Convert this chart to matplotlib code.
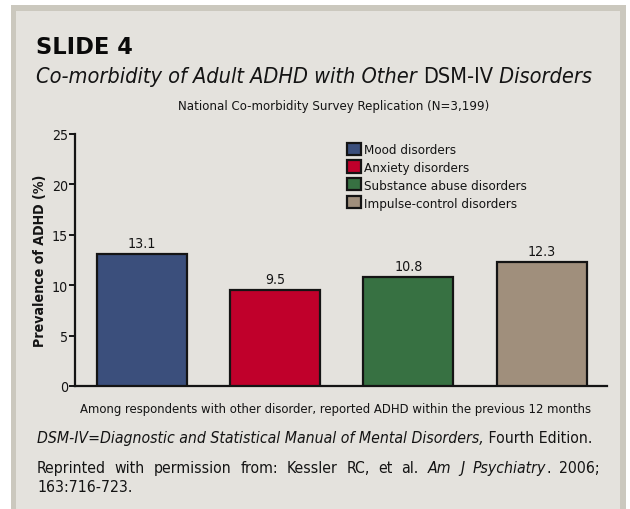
import matplotlib
matplotlib.use("Agg")
import matplotlib.pyplot as plt
from matplotlib.patches import Rectangle

categories = ["Mood disorders", "Anxiety disorders", "Substance abuse disorders", "Impulse-control disorders"]
values = [13.1, 9.5, 10.8, 12.3]
value_labels = ["13.1", "9.5", "10.8", "12.3"]
colors = ["#3b4f7c", "#c0002b", "#377142", "#a08f7c"]
yticks = [0, 5, 10, 15, 20, 25]

W, H = 630, 510
plt.rcParams['font.family'] = ["DejaVu Sans"]
plt.rcParams['font.stretch'] = "condensed"
INK = "#141414"

fig = plt.figure(figsize=(W / 100, H / 100), dpi=100, facecolor="white")
fig.canvas.draw()
R = fig.canvas.get_renderer()


def fx(x):
    return x / W


def fy(y):
    return 1 - y / H


def width_of(parts, size, **kw):
    tot = 0
    for txt, style in parts:
        t = fig.text(0, 0, txt, fontsize=size, style=style, **kw)
        tot += t.get_window_extent(R).width
        t.remove()
    return tot


def fit(parts, target, **kw):
    s = 10.0
    for _ in range(2):
        s = s * target / width_of(parts, s, **kw)
    return s


def run(xpx, ypx, parts, size, **kw):
    cur = xpx
    for txt, style in parts:
        t = fig.text(fx(cur), fy(ypx), txt, fontsize=size, style=style,
                     ha="left", va="baseline", color=INK, **kw)
        cur += t.get_window_extent(R).width
    return cur


def justify(xpx, x2, ypx, words, size):
    widths = [width_of(w, size) for w in words]
    gap = (x2 - xpx - sum(widths)) / (len(words) - 1)
    cur = xpx
    for w, wd in zip(words, widths):
        run(cur, ypx, w, size)
        cur += wd + gap


# border and panel
fig.patches.append(Rectangle((fx(11), 0), 615 / W, 504 / H, transform=fig.transFigure,
                             facecolor="#cbc8be", edgecolor="none", zorder=-10))
fig.patches.append(Rectangle((fx(16), 0), 604 / W, 498 / H, transform=fig.transFigure,
                             facecolor="#e4e2dd", edgecolor="none", zorder=-9))

# axes: x 75..607, y 135..387
AX0, AX1, AY0, AY1 = 75, 607, 135, 387
ax = fig.add_axes([fx(AX0), fy(AY1), (AX1 - AX0) / W, (AY1 - AY0) / H])
ax.set_facecolor("none")

num_size = 10.2
x = list(range(len(values)))
bars = ax.bar(x, values, width=0.675, color=colors, edgecolor=INK, linewidth=1.6,
              label=categories, zorder=3)
for xi, v, t in zip(x, values, value_labels):
    ax.annotate(t, (xi, v), xytext=(0, 5.2), textcoords="offset points",
                ha="center", va="baseline", fontsize=num_size, color=INK)
ax.set_xlim(-0.5, 3.49)
ax.set_ylim(0, 25)
ax.set_yticks(yticks)
ax.set_yticklabels([str(t) for t in yticks], fontsize=num_size, color=INK)
ax.set_xticks([])
for s in ["top", "right"]:
    ax.spines[s].set_visible(False)
for s in ["left", "bottom"]:
    ax.spines[s].set_linewidth(1.6)
    ax.spines[s].set_color(INK)
ax.tick_params(axis="y", direction="out", length=4, width=1.4, pad=1.0, color=INK)

ylab_size = fit([("Prevalence of ADHD (%)", "normal")], 172, fontweight="bold")
ax.set_ylabel("Prevalence of ADHD (%)", fontsize=ylab_size, fontweight="bold", color=INK)
ax.yaxis.label.set_va("center")
ax.yaxis.set_label_coords((40 - AX0) / (AX1 - AX0), (AY1 - 261) / (AY1 - AY0))

xl = "Among respondents with other disorder, reported ADHD within the previous 12 months"
xl_size = fit([(xl, "normal")], 516)
ax.set_xlabel(xl, fontsize=xl_size, color=INK)
ax.xaxis.label.set_va("baseline")
ax.xaxis.set_label_coords((335 - AX0) / (AX1 - AX0), -(413 - AY1) / (AY1 - AY0))

leg_size = fit([("Substance abuse disorders", "normal")], 164)
fpx = leg_size * 100 / 72
leg = ax.legend(handles=bars, labels=categories, loc="upper left",
                bbox_to_anchor=((347 - AX0) / (AX1 - AX0), (AY1 - 143.5) / (AY1 - AY0)),
                frameon=False, fontsize=leg_size,
                handlelength=14 / fpx, handleheight=14 / fpx, handletextpad=2.5 / fpx,
                labelspacing=(19.7 - 1.17 * fpx) / fpx, borderpad=0, borderaxespad=0)
for t in leg.get_texts():
    t.set_color(INK)

# Header texts
slide_size = fit([("SLIDE 4", "normal")], 97, fontweight="heavy", fontstretch="normal")
fig.text(fx(36), fy(54), "SLIDE 4", fontsize=slide_size, fontweight="heavy",
         fontstretch="normal", ha="left", va="baseline", color="#0a0a0a")

title_parts = [("Co-morbidity of Adult ADHD with Other ", "italic"), ("DSM-IV", "normal"),
               (" Disorders", "italic")]
run(36, 83, title_parts, fit(title_parts, 554))

sub = "National Co-morbidity Survey Replication (N=3,199)"
fig.text(fx(334), fy(110), sub, fontsize=fit([(sub, "normal")], 310),
         ha="center", va="baseline", color=INK)

dsm_parts = [("DSM-IV=Diagnostic and Statistical Manual of Mental Disorders,", "italic"),
             (" Fourth Edition.", "normal")]
foot_size = fit(dsm_parts, 557)
run(37, 443, dsm_parts, foot_size)

words = [[("Reprinted", "normal")], [("with", "normal")], [("permission", "normal")],
         [("from:", "normal")], [("Kessler", "normal")], [("RC,", "normal")],
         [("et", "normal")], [("al.", "normal")], [("Am", "italic")], [("J", "italic")],
         [("Psychiatry", "italic"), (".", "normal")], [("2006;", "normal")]]
justify(37, 600, 473, words, foot_size)
run(37, 492, [("163:716-723.", "normal")], foot_size)

fig.savefig("out.png", dpi=100, facecolor=fig.get_facecolor())
